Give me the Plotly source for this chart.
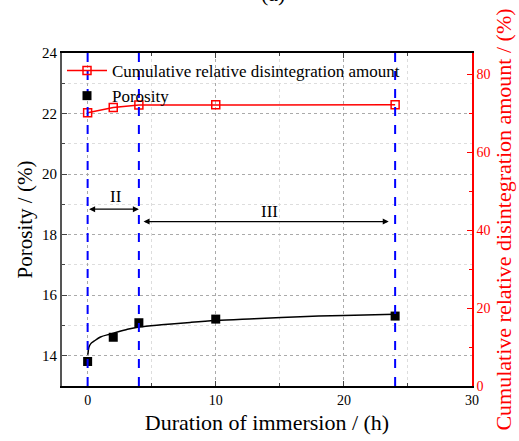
import plotly.graph_objects as go

# Data
hours = [0, 2, 4, 10, 24]
porosity = [13.81, 14.61, 15.09, 15.21, 15.31]
cumulative = [70.1, 71.4, 72.05, 72.1, 72.1]

fit_hours = [0.02, 0.1, 0.25, 0.5, 1, 1.8, 3, 4, 6, 8, 10, 13, 16.6, 20, 24]
fit_porosity = [14.03, 14.28, 14.40, 14.48, 14.62, 14.72, 14.86, 14.95, 15.03, 15.10, 15.16, 15.22, 15.29, 15.33, 15.37]

stage_bounds = [0, 4, 24]
stage_labels = ["II", "III"]
stage_label_x = [2.2, 14.2]
stage_label_y = [19.25, 18.75]
arrow_x0 = [0, 4.25]
arrow_x1 = [4, 23.5]
arrow_y = [18.84, 18.43]

xticks = [0, 10, 20, 30]
yticks = [14, 16, 18, 20, 22, 24]
y2ticks = [0, 20, 40, 60, 80]

FONT = "Liberation Serif"

fig = go.Figure()

fig.add_trace(go.Scatter(
    x=hours, y=cumulative, yaxis="y2", mode="lines+markers",
    name="Cumulative relative disintegration amount",
    line=dict(color="red", width=1.5),
    marker=dict(symbol="square-open", size=8, color="red", line=dict(width=1.5, color="red")),
))
fig.add_trace(go.Scatter(
    x=hours, y=porosity, mode="markers", name="Porosity",
    marker=dict(symbol="square", size=9, color="black"),
))
fig.add_trace(go.Scatter(
    x=fit_hours, y=fit_porosity, mode="lines", showlegend=False,
    line=dict(color="black", width=1.5, shape="spline"),
))

shapes = []
for b in stage_bounds:
    shapes.append(dict(type="line", xref="x", yref="paper", x0=b, x1=b, y0=0, y1=1,
                       line=dict(color="blue", width=2, dash="dash"), layer="above"))

annotations = []
for i in range(len(stage_labels)):
    annotations.append(dict(x=arrow_x1[i], y=arrow_y[i], ax=arrow_x0[i], ay=arrow_y[i],
                            xref="x", yref="y", axref="x", ayref="y", text="",
                            showarrow=True, arrowhead=2, startarrowhead=2, arrowside="end+start",
                            arrowsize=1, startarrowsize=1, arrowwidth=1.2, arrowcolor="black"))
    annotations.append(dict(x=stage_label_x[i], y=stage_label_y[i], xref="x", yref="y",
                            text=stage_labels[i], showarrow=False,
                            font=dict(family=FONT, size=17, color="black")))
annotations.append(dict(x=0.515, y=1.135, xref="paper", yref="paper", yanchor="bottom",
                        text="(a)", showarrow=False,
                        font=dict(family=FONT, size=22, color="black")))

fig.update_layout(
    width=519, height=441,
    margin=dict(l=62, r=47, t=53, b=55, autoexpand=False),
    paper_bgcolor="white", plot_bgcolor="white",
    font=dict(family=FONT, color="black"),
    shapes=shapes, annotations=annotations,
    legend=dict(x=0.0, y=1.0, xanchor="left", yanchor="top", bgcolor="rgba(0,0,0,0)",
                font=dict(family=FONT, size=17), tracegroupgap=0, itemwidth=40),
    xaxis=dict(range=[-2, 30], tickvals=xticks, ticks="inside", ticklen=5, automargin=False,
               tickfont=dict(size=14), showline=True, linecolor="black", linewidth=1.5,
               mirror="ticks", showgrid=True, gridcolor="#aaaaaa", griddash="dot", gridwidth=1,
               minor=dict(dtick=5, tick0=0, ticks="inside", ticklen=3, showgrid=True,
                          gridcolor="#dddddd", griddash="dot"),
               zeroline=False,
               title=dict(text="Duration of immersion / (h)", font=dict(size=22), standoff=8)),
    yaxis=dict(range=[13, 24], tickvals=yticks, ticks="inside", ticklen=5, automargin=False,
               tickfont=dict(size=15), showline=True, linecolor="#555555", linewidth=2,
               showgrid=True, gridcolor="#aaaaaa", griddash="dot", gridwidth=1,
               minor=dict(dtick=1, tick0=13, ticks="inside", ticklen=3, showgrid=True,
                          gridcolor="#dddddd", griddash="dot"),
               zeroline=False,
               title=dict(text="Porosity / (%)", font=dict(size=21), standoff=4)),
    yaxis2=dict(range=[0, 85.4], tickvals=y2ticks, overlaying="y", side="right",
                automargin=False,
                ticks="inside", ticklen=5, tickcolor="red", tickfont=dict(size=14, color="red"),
                showline=True, linecolor="red", linewidth=1.5, showgrid=False, zeroline=False,
                minor=dict(dtick=10, tick0=0, ticks="inside", ticklen=3, tickcolor="red"),
                title=dict(text="Cumulative relative disintegration amount / (%)",
                           font=dict(size=22, color="red"), standoff=5)),
)

fig.write_html("out.html")
